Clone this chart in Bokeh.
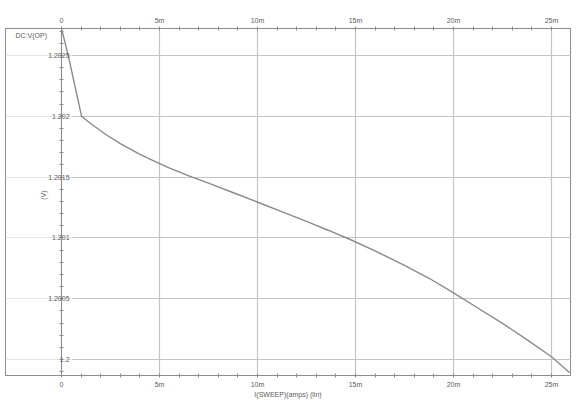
import math
from bokeh.plotting import figure
from bokeh.models import Range1d, LinearAxis, FixedTicker, Label, Grid
from bokeh.embed import file_html
from bokeh.resources import INLINE

# ---- data (sweep current in mA, output voltage in V) ----
sweep_ma = [0.0, 0.34, 1.02, 1.5, 2.24, 3.0, 3.93, 4.7, 5.46, 6.5, 7.5, 8.7, 9.98,
            11.2, 12.5, 13.6, 14.64, 16.0, 17.5, 18.8, 19.98, 21.2, 22.5, 23.8, 25.0, 25.93]
v_out = [1.20272, 1.2025, 1.20200, 1.201938, 1.201852, 1.201775, 1.201693, 1.201633,
         1.201577, 1.201510, 1.201450, 1.201375, 1.201295, 1.201218, 1.201135, 1.201063,
         1.200993, 1.200893, 1.200775, 1.200664, 1.200550, 1.200428, 1.200298, 1.200158,
         1.200023, 1.199891]

x_ticks = [0, 5, 10, 15, 20, 25]
x_tick_labels = ["0", "5m", "10m", "15m", "20m", "25m"]
y_ticks = [1.2, 1.2005, 1.201, 1.2015, 1.202, 1.2025]
y_tick_labels = ["1.2", "1.2005", "1.201", "1.2015", "1.202", "1.2025"]
trace_name = "DC:V(OP)"
y_title = "(V)"
x_title = "I(SWEEP)(amps) (lin)"

FONT = "Liberation Sans"
TXT = "#5a5a5a"
AX = "#8c8c8c"
GRID = "#c4c4c4"

x_minor = [m for m in range(1, 26) if m % 5]
y_minor = [round(1.2 + 0.0001 * i, 4) for i in range(-1, 28) if i % 5]

p = figure(width=576, height=400, output_backend="svg", toolbar_location=None,
           x_range=Range1d(-2.86, 25.97), y_range=Range1d(1.199869, 1.202721),
           x_axis_location=None, y_axis_location=None,
           min_border_left=5, min_border_right=6, min_border_top=28, min_border_bottom=24,
           background_fill_color="white", border_fill_color="white",
           outline_line_color=AX, outline_line_width=1)

# grids
xg = Grid(dimension=0, ticker=FixedTicker(ticks=x_ticks), grid_line_color=GRID, grid_line_width=1.2)
yg = Grid(dimension=1, ticker=FixedTicker(ticks=y_ticks), grid_line_color=GRID, grid_line_width=1.2)
if "cross_bounds" in Grid.properties():
    yg.cross_bounds = (0.55, 25.97)
p.add_layout(xg)
p.add_layout(yg)

def style_axis(ax):
    ax.axis_line_color = AX
    ax.major_tick_line_color = AX
    ax.minor_tick_line_color = AX
    ax.major_tick_in = 2
    ax.major_tick_out = 2
    ax.minor_tick_in = 2
    ax.minor_tick_out = 2
    ax.major_label_text_font = FONT
    ax.major_label_text_font_size = "7px"
    ax.major_label_text_color = TXT
    ax.axis_label_text_font = FONT
    ax.axis_label_text_font_size = "7px"
    ax.axis_label_text_font_style = "normal"
    ax.axis_label_text_color = TXT

xb = LinearAxis(ticker=FixedTicker(ticks=x_ticks, minor_ticks=x_minor),
                major_label_overrides=dict(zip(x_ticks, x_tick_labels)),
                axis_label=x_title, axis_label_standoff=0, major_label_standoff=3)
style_axis(xb)
p.add_layout(xb, "below")

xt = LinearAxis(ticker=FixedTicker(ticks=x_ticks, minor_ticks=x_minor),
                major_label_overrides=dict(zip(x_ticks, x_tick_labels)),
                major_label_standoff=3)
style_axis(xt)
p.add_layout(xt, "above")

ya = LinearAxis(ticker=FixedTicker(ticks=y_ticks, minor_ticks=y_minor),
                major_label_overrides=dict(zip(y_ticks, y_tick_labels)),
                fixed_location=0, major_label_standoff=-10)
style_axis(ya)
p.add_layout(ya, "left")

# curve
p.line(sweep_ma, v_out, line_color="#8a8a8a", line_width=1.4)

p.add_layout(Label(x=-2.35, y=1.202664, text=trace_name, text_font=FONT, text_font_size="7px",
                   text_color=TXT, text_baseline="middle"))
p.add_layout(Label(x=-0.92, y=1.201352, text=y_title, text_font=FONT, text_font_size="7px",
                   text_color=TXT, angle=math.pi / 2, text_align="center", text_baseline="middle"))

open("out.html", "w").write(file_html(p, INLINE))
